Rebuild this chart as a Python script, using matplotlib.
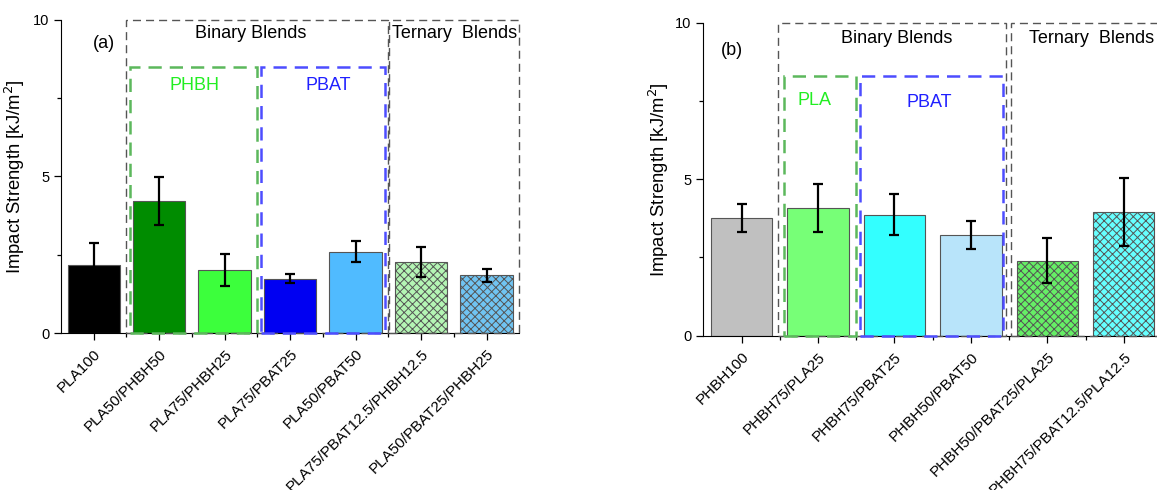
import matplotlib.pyplot as plt
from matplotlib.patches import Rectangle
from matplotlib.ticker import FixedLocator, MultipleLocator

plt.rcParams['font.family'] = ['Liberation Sans', 'DejaVu Sans']

# panel (a): PLA based blends
labels_a = ['PLA100', 'PLA50/PHBH50', 'PLA75/PHBH25', 'PLA75/PBAT25',
            'PLA50/PBAT50', 'PLA75/PBAT12.5/PHBH12.5', 'PLA50/PBAT25/PHBH25']
values_a = [2.18, 4.22, 2.00, 1.74, 2.60, 2.27, 1.84]
errors_a = [0.69, 0.76, 0.51, 0.13, 0.34, 0.47, 0.20]
colors_a = ['#000000', '#008c00', '#3cff3c', '#0000f2', '#50bbff', '#b4f5b4', '#70c4f2']
hatch_a = ['', '', '', '', '', 'xxxx', 'xxxx']

# panel (b): PHBH based blends
labels_b = ['PHBH100', 'PHBH75/PLA25', 'PHBH75/PBAT25', 'PHBH50/PBAT50',
            'PHBH50/PBAT25/PLA25', 'PHBH75/PBAT12.5/PLA12.5']
values_b = [3.76, 4.08, 3.87, 3.22, 2.40, 3.95]
errors_b = [0.45, 0.76, 0.66, 0.45, 0.71, 1.10]
colors_b = ['#c0c0c0', '#77ff77', '#33ffff', '#b8e4fa', '#66ee66', '#66ffff']
hatch_b = ['', '', '', '', 'xxxx', 'xxxx']

plt.rcParams['hatch.color'] = '#333333'
plt.rcParams['hatch.linewidth'] = 0.7

fig = plt.figure(figsize=(11.57, 4.9), dpi=100)
ax_a = fig.add_axes([0.0527, 0.3204, 0.3962, 0.6388])
ax_b = fig.add_axes([0.6079, 0.3149, 0.3965, 0.6388])


def draw_panel(ax, labels, values, errors, colors, hatches, label_x):
    x = list(range(len(labels)))
    bars = ax.bar(x, values, width=0.8, color=colors, edgecolor='#555555',
                  linewidth=0.8, zorder=2)
    for b, h in zip(bars, hatches):
        b.set_hatch(h)
    ax.errorbar(x, values, yerr=errors, fmt='none', ecolor='black',
                elinewidth=1.6, capsize=3.5, capthick=1.6, zorder=4)
    ax.set_xlim(-0.5, len(labels) - 0.5)
    ax.set_ylim(0, 10)
    ax.set_xticks(x)
    ax.set_xticklabels(labels, rotation=45, ha='right', rotation_mode='anchor',
                       fontsize=11)
    ax.xaxis.set_minor_locator(FixedLocator([i + 0.5 for i in x[:-1]]))
    ax.set_yticks([0, 5, 10])
    ax.yaxis.set_minor_locator(MultipleLocator(2.5))
    ax.tick_params(axis='both', which='major', length=5, width=0.9)
    ax.tick_params(axis='y', which='major', labelsize=10.5)
    ax.tick_params(axis='both', which='minor', length=3, width=0.9)
    ax.tick_params(axis='x', pad=5)
    ax.spines['top'].set_visible(False)
    ax.spines['right'].set_visible(False)
    ax.set_ylabel('Impact Strength [kJ/m$^2$]', fontsize=13.3)
    ax.yaxis.set_label_coords(label_x, 0.5)


def box(ax, x0, x1, top, color, lw, dash):
    ax.add_patch(Rectangle((x0, 0), x1 - x0, top, fill=False, edgecolor=color,
                           linewidth=lw, linestyle=(0, dash), clip_on=False,
                           zorder=5))


draw_panel(ax_a, labels_a, values_a, errors_a, colors_a, hatch_a, -0.074)
draw_panel(ax_b, labels_b, values_b, errors_b, colors_b, hatch_b, -0.07)

# panel (a) groupings
box(ax_a, 0.5, 4.49, 10, '#555555', 1.0, (5.8, 3.6))
box(ax_a, 4.51, 6.5, 10, '#555555', 1.0, (5.8, 3.6))
box(ax_a, 0.55, 2.5, 8.5, '#5cb85c', 1.8, (5.3, 3.2))
box(ax_a, 2.56, 4.45, 8.5, '#4d4dff', 1.8, (5.3, 3.2))
ax_a.text(2.4, 9.57, 'Binary Blends', ha='center', va='center', fontsize=13)
ax_a.text(4.55, 9.57, 'Ternary  Blends', ha='left', va='center', fontsize=13)
ax_a.text(0.16, 9.26, '(a)', ha='center', va='center', fontsize=13)
ax_a.text(1.54, 7.9, 'PHBH', ha='center', va='center', fontsize=13, color='#22ee22')
ax_a.text(3.58, 7.9, 'PBAT', ha='center', va='center', fontsize=13, color='#2020ff')

# panel (b) groupings
box(ax_b, 0.48, 3.46, 10, '#555555', 1.0, (5.8, 3.6))
box(ax_b, 3.53, 5.6, 10, '#555555', 1.0, (5.8, 3.6))
box(ax_b, 0.55, 1.5, 8.3, '#5cb85c', 1.8, (5.3, 3.2))
box(ax_b, 1.55, 3.42, 8.3, '#4d4dff', 1.8, (5.3, 3.2))
ax_b.text(2.03, 9.48, 'Binary Blends', ha='center', va='center', fontsize=13)
ax_b.text(3.76, 9.48, 'Ternary  Blends', ha='left', va='center', fontsize=13)
ax_b.text(-0.13, 9.1, '(b)', ha='center', va='center', fontsize=13)
ax_b.text(0.96, 7.5, 'PLA', ha='center', va='center', fontsize=13, color='#22ee22')
ax_b.text(2.46, 7.45, 'PBAT', ha='center', va='center', fontsize=13, color='#2020ff')

fig.savefig('out.png', dpi=100)
